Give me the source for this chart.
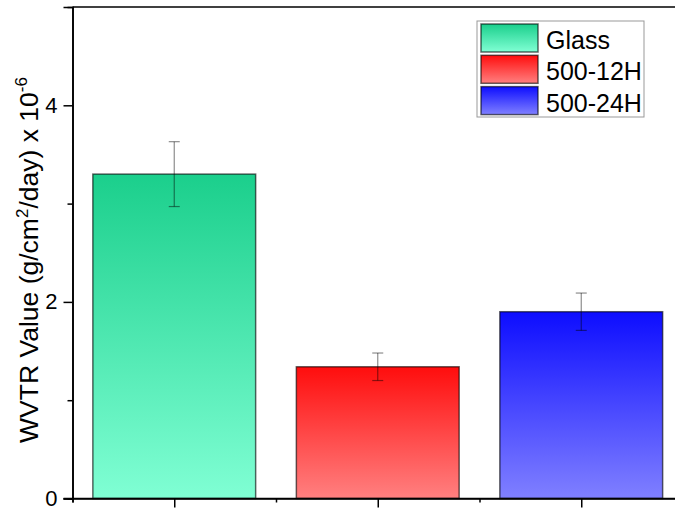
<!DOCTYPE html>
<html>
<head>
<meta charset="utf-8">
<script src="https://cdn.jsdelivr.net/npm/d3@7"></script>
<style>
    body { margin: 0; background: #fff; }
    text { font-family: "Liberation Sans", Arial, sans-serif; fill: #000; }
</style>
</head>
<body>
<script>
const categories = ["Glass", "500-12H", "500-24H"];
const values = [3.30, 1.34, 1.90];
const errors = [0.33, 0.14, 0.19];
const topColors = ["#1bcf8c", "#ff0d0d", "#0d0dff"];
const bottomColors = ["#80ffd4", "#ff8080", "#8080ff"];
const majorTicksY = [0, 2, 4];
const minorTicksY = [1, 3];

const svgWidth = 675;
const svgHeight = 508;

const margin = {
    left: 72.5,
    top: 7,
    right: -8,
    bottom: 9.5
};

const chartWidth = svgWidth - margin.left - margin.right;
const chartHeight = svgHeight - margin.top - margin.bottom;

const svg = d3
    .select("body")
    .append("svg")
    .attr("width", svgWidth)
    .attr("height", svgHeight);

const defs = svg.append("defs");
categories.forEach((c, i) => {
    const grad = defs
        .append("linearGradient")
        .attr("id", `grad${i}`)
        .attr("x1", 0).attr("y1", 0)
        .attr("x2", 0).attr("y2", 1);
    grad.append("stop").attr("offset", "0%").attr("stop-color", topColors[i]);
    grad.append("stop").attr("offset", "100%").attr("stop-color", bottomColors[i]);
});

const chart = svg
    .append("g")
    .attr("transform", `translate(${margin.left},${margin.top})`);

const xScale = d3
    .scaleLinear()
    .domain([0.5, 3.5])
    .range([0, chartWidth]);

const yScale = d3
    .scaleLinear()
    .domain([0, 5])
    .range([chartHeight, 0]);

const barWidth = xScale(1.4) - xScale(0.6);

// bars
chart
    .selectAll("rect.bar")
    .data(values)
    .enter()
    .append("rect")
    .classed("bar", true)
    .attr("x", (d, i) => xScale(i + 1) - barWidth / 2)
    .attr("y", d => yScale(d))
    .attr("width", barWidth)
    .attr("height", d => yScale(0) - yScale(d))
    .attr("fill", (d, i) => `url(#grad${i})`)
    .attr("stroke", "#000")
    .attr("stroke-opacity", 0.6)
    .attr("stroke-width", 1.5);

// error bars
const errG = chart
    .selectAll("g.err")
    .data(values)
    .enter()
    .append("g")
    .classed("err", true)
    .attr("stroke", "#000")
    .attr("stroke-opacity", 0.45)
    .attr("stroke-width", 1.2);

errG.append("line")
    .attr("x1", (d, i) => xScale(i + 1))
    .attr("x2", (d, i) => xScale(i + 1))
    .attr("y1", (d, i) => yScale(d + errors[i]))
    .attr("y2", (d, i) => yScale(d - errors[i]));

[1, -1].forEach(s => {
    errG.append("line")
        .attr("x1", (d, i) => xScale(i + 1) - 5.5)
        .attr("x2", (d, i) => xScale(i + 1) + 5.5)
        .attr("y1", (d, i) => yScale(d + s * errors[i]))
        .attr("y2", (d, i) => yScale(d + s * errors[i]));
});

// axes
const leftAxis = d3
    .axisLeft(yScale)
    .tickValues(majorTicksY)
    .tickSize(9)
    .tickPadding(6)
    .tickFormat(d3.format("d"));

const leftMinor = d3
    .axisLeft(yScale)
    .tickValues(minorTicksY)
    .tickSize(5)
    .tickFormat("");

const bottomAxis = d3
    .axisBottom(xScale)
    .tickValues([1, 2, 3])
    .tickSize(9)
    .tickFormat("");

const bottomMinor = d3
    .axisBottom(xScale)
    .tickValues([0.5, 1.5, 2.5, 3.5])
    .tickSize(4)
    .tickFormat("");

chart.append("g").attr("id", "y-minor").call(leftMinor);
chart.append("g").attr("id", "y-axis").call(leftAxis);
chart.append("g").attr("transform", `translate(0,${chartHeight})`).call(bottomMinor);
chart.append("g").attr("id", "x-axis").attr("transform", `translate(0,${chartHeight})`).call(bottomAxis);

chart.selectAll(".domain").attr("stroke", "#000").attr("stroke-width", 1.6);
chart.selectAll(".tick line").attr("stroke", "#000").attr("stroke-width", 1.5);
chart.selectAll("#y-axis text")
    .style("font-size", "22px")
    .attr("fill", "#222");
chart.select("#x-axis .domain").attr("d", `M-9,0H${chartWidth}`);

// top frame
chart.append("line")
    .attr("x1", 0).attr("x2", chartWidth)
    .attr("y1", 0).attr("y2", 0)
    .attr("stroke", "#000")
    .attr("stroke-width", 1.6);

// y label
const yLabel = svg
    .append("text")
    .attr("transform", `translate(38,260) rotate(-90)`)
    .attr("text-anchor", "middle")
    .style("font-size", "26.5px")
    .attr("fill", "#111");
yLabel.append("tspan").text("WVTR Value (g/cm");
yLabel.append("tspan").attr("dy", -10).style("font-size", "17px").text("2");
yLabel.append("tspan").attr("dy", 10).text("/day) x 10");
yLabel.append("tspan").attr("dy", -11).style("font-size", "17px").text("-6");

// legend
const legend = svg
    .append("g")
    .attr("transform", "translate(477,21)");

legend.append("rect")
    .attr("width", 167)
    .attr("height", 96)
    .attr("fill", "#fff")
    .attr("stroke", "#999")
    .attr("stroke-width", 1);

const rows = legend
    .selectAll("g.row")
    .data(categories)
    .enter()
    .append("g")
    .classed("row", true)
    .attr("transform", (d, i) => `translate(4,${3 + i * 31.3})`);

rows.append("rect")
    .attr("width", 57)
    .attr("height", 28)
    .attr("fill", (d, i) => `url(#grad${i})`)
    .attr("stroke", "#000")
    .attr("stroke-opacity", 0.6)
    .attr("stroke-width", 1.5);

rows.append("text")
    .attr("x", 65)
    .attr("y", 25)
    .style("font-size", "25px")
    .text(d => d);
</script>
</body>
</html>
